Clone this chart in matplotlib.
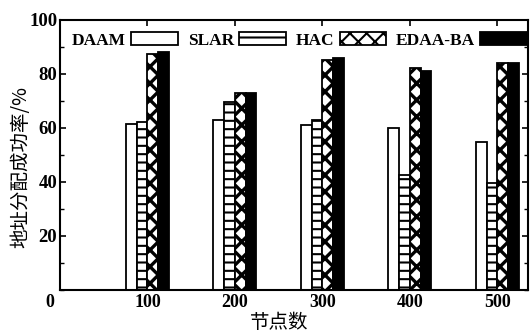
import matplotlib
matplotlib.use("Agg")
import matplotlib.pyplot as plt
import numpy as np
from matplotlib.ticker import MultipleLocator
import matplotlib.transforms as mtransforms

plt.rcParams['font.family'] = ['Liberation Serif', 'Noto Sans CJK SC']
plt.rcParams['hatch.linewidth'] = 1.5

nodes = [100, 200, 300, 400, 500]
series = ['DAAM', 'SLAR', 'HAC', 'EDAA-BA']
daam = [61.5, 63.0, 61.0, 60.0, 55.0]
slar = [62.3, 69.8, 63.0, 42.6, 39.8]
hac = [87.4, 73.0, 85.0, 82.2, 84.0]
edaa = [88.0, 73.0, 86.0, 81.2, 84.0]
values = [daam, slar, hac, edaa]

styles = [dict(facecolor='white', hatch=None, hlw=1.5),
          dict(facecolor='white', hatch='--', hlw=1.5),
          dict(facecolor='white', hatch='xx', hlw=2.4),
          dict(facecolor='black', hatch=None, hlw=1.5)]

fig = plt.figure(figsize=(5.30, 3.34), dpi=100)
ax = fig.add_axes([60/530, 1-290/334, 468/530, 270/334])

w = 12.3
x = np.array(nodes, dtype=float)
handles = []
for i, (name, vals, st) in enumerate(zip(series, values, styles)):
    with plt.rc_context({'hatch.linewidth': st['hlw']}):
        b = ax.bar(x + (i - 1.5) * w, vals, width=w, facecolor=st['facecolor'],
                   edgecolor='black', hatch=st['hatch'], linewidth=1.3, label=name)
    for p in b.patches:
        if hasattr(p, 'set_hatch_linewidth'):
            p.set_hatch_linewidth(st['hlw'])
    handles.append(b)

ax.set_xlim(0, 535)
ax.set_ylim(0, 100)
ax.set_xticks([0] + nodes)
ax.set_xticklabels(['0'] + [str(n) for n in nodes])
ax.set_yticks([20, 40, 60, 80, 100])
ax.yaxis.set_minor_locator(MultipleLocator(10))

for s in ax.spines.values():
    s.set_linewidth(1.5)

ax.tick_params(axis='x', which='both', bottom=False, top=True, direction='in',
               length=4, width=1.2, labelsize=13, pad=3)
ax.tick_params(axis='y', which='major', left=True, right=True, direction='in',
               length=4, width=1.2, labelsize=13.5, pad=2)
ax.tick_params(axis='y', which='minor', left=True, right=True, direction='in',
               length=3, width=1.0)
for lab in ax.get_xticklabels() + ax.get_yticklabels():
    lab.set_fontweight('bold')

# shift the corner "0" slightly left
lab0 = ax.get_xticklabels()[0]
lab0.set_transform(lab0.get_transform() + mtransforms.ScaledTranslation(-10/100, 0, fig.dpi_scale_trans))

fig.text(279/530, 1-322/334, '节点数', fontsize=14, family=['Noto Sans CJK SC'],
         ha='center', va='center')
fig.text(21/530, 1-167/334, '地址分配成功率/%', fontsize=14, family=['Noto Sans CJK SC'],
         ha='center', va='center', rotation=90)

leg = ax.legend(handles=handles, labels=series, loc='upper left', ncol=4,
                frameon=False, markerfirst=False, handlelength=2.7,
                handleheight=0.75, handletextpad=0.3, columnspacing=0.55,
                borderaxespad=0.3, bbox_to_anchor=(0.0, 1.0),
                prop={'family': 'Liberation Serif', 'weight': 'bold', 'size': 12.5})

fig.savefig('out.png', dpi=100)
